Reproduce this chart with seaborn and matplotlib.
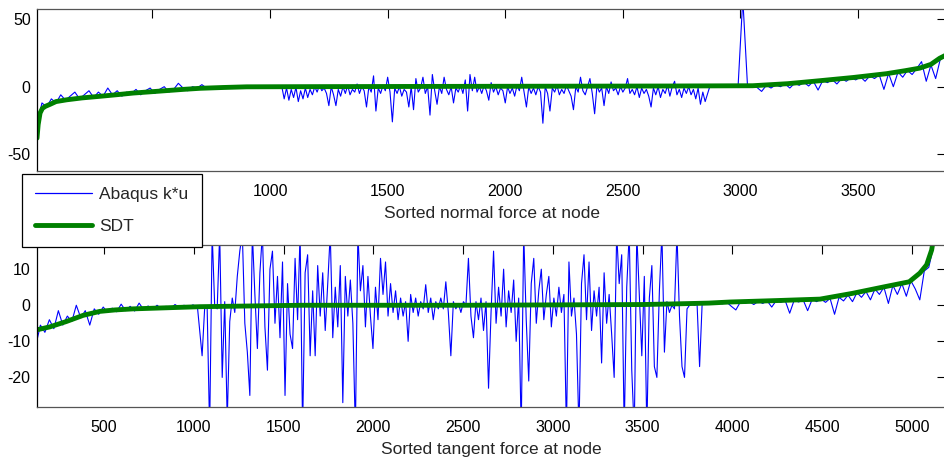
import numpy as np
import matplotlib
matplotlib.use('Agg')
import matplotlib.pyplot as plt
from matplotlib.lines import Line2D
import seaborn as sns

sns.set_style('white')
plt.rcParams['font.family'] = ['Liberation Sans', 'DejaVu Sans']
plt.rcParams['axes.unicode_minus'] = False

BLUE = '#0000ff'
GREEN = '#008000'

# ---- Top panel: sorted normal force (Abaqus k*u read off in three stretches) ----
# nodes 10..1050, every 20
normal_left_start, normal_left_step = 10, 20
normal_left = [
    -28, -12, -15, -9, -12, -6, -10, -7, -4, -9,
    -6, -3, -8, -4, -7, -1, -6, -3, -7, -4,
    -5, -2, -6, -3, -1, -5, -2, 0, -4, -2,
    2.5, -1, -3, 0, -1, 1.5, -1, 0, -2, 0,
    -0.5, 0.5, -0.3, 0, -0.1, 0.2, 0, -0.1, 0.3, 0,
    0, 0.1, 0,
]
# nodes 1060..2850, every 10
normal_mid_start, normal_mid_step = 1060, 10
normal_mid = [
    -9, -1, -10, -2, -8, -0.5, -11, -3, -9, -1,
    -8, -2, -6, 0, -4, 1, -3, -1, -5, -14,
    0, -6, -14, -2, -7, 0, -5, 1, -6, -2,
    -4, 2, -5, 0, -3, -15, 0, -4, 8, -18,
    -1, -5, 1, -3, 7, -4, -26, -1, -5, 0,
    -7, -2, -4, -15, 0, -17, 6, -4, -1, 7,
    -5, 0, -21, 9, -3, -13, 0, -5, 7, -2,
    -6, 0, -12, -1, -4, 1, -5, 5, -18, 9,
    -3, 7, -4, 0, -5, 1, -3, -10, 3, -4,
    0, -6, -1, -3, -12, 0, -5, -1, -7, 1,
    -3, 7, -4, -15, 0, -5, -1, -6, 0, -4,
    -27, 0, -5, -18, -1, -4, 1, -6, -2, -5,
    1, -3, -7, -17, 0, -4, 7, -3, -6, 0,
    6, -5, -20, 1, -4, -1, -14, 0, -5, 3.5,
    -3, -1, -6, 0, -4, -1, 6, -5, -2, -6,
    0, -8, -1, -5, -2, -7, -15, -1, -6, 0,
    -8, -2, -5, 1, -7, 0, 4, -6, -2, -8,
    -1, -5, 0, -6, -2, -9, -1, -13, -4, -11,
]
# nodes 2870..3870, every 20
normal_right_start, normal_right_step = 2870, 20
normal_right = [
    0.3, 0.2, 0.5, 0.3, 0.6, 0.4, 0.5, 65, 0.6, 0.7,
    -0.5, -3.5, 1, -1, 1.3, 0, 2, -1, 2.5, 1,
    3.2, 0.5, 4, -2.5, 4.5, 3, 5.3, 2, 6, 4,
    6.7, 5, 7.3, 4, 8, 6, 8.8, -2, 9.8, 0,
    10.8, 7, 12, 9, 13.5, 18.5, 4, 16, 6, 20.5,
    23,
]
normal_sdt_node = [9, 14, 22, 32, 45, 65, 90, 135, 200, 277, 350, 418, 490, 560,
                   630, 702, 800, 900, 1100, 2000, 2700, 3052, 3200, 3337, 3480,
                   3621, 3700, 3762, 3810, 3847, 3870]
normal_sdt = [-38, -28, -19.5, -16, -14.5, -13, -11, -9.7, -8.3, -7.1, -5.9, -4.7,
              -3.8, -2.9, -2, -1.2, -0.6, -0.1, 0, 0.3, 0.5, 0.7, 2.2, 4.4, 6.8,
              9.6, 11.8, 13.7, 16.5, 21, 23]

# ---- Bottom panel: sorted tangent force ----
# nodes 120..1020, every 25
tangent_left_start, tangent_left_step = 120, 25
tangent_left = [
    -11, -5.5, -7.5, -4, -6.5, -1.5, -5.5, -3, -4.5, 0,
    -3.5, -1.5, -5.5, -1, -2.5, -0.5, -2, -0.8, -1.8, 0.3,
    -1.5, -0.3, -1.6, 0.6, -1.2, -0.2, -1.1, 0, -1, -0.3,
    -0.9, 0.2, -0.6, 0, -0.5, 0.1, -0.5,
]
# nodes 1046..3846, every 14
tangent_mid_start, tangent_mid_step = 1046, 14
tangent_mid = [
    -14, -1, -0.5, -35, 20, 0, -1, 20, -20, 1,
    -32, -4.5, 2, -2, 8, 15, 20, -5, -13, -25,
    20, 3, -12, 9, 20, -6, -18, 10, 15, -5,
    8, -9, 12, -25, 6, -8, -12, 13, -4, 20,
    -35, 9, 14, -14, 4, -14, 11, -3, 9, -7,
    6, 20, -9, 5, -6, 11, -27, 8, -3, 7,
    -5, -35, 20, 4, 11, -6, 8, -3, -12, 5,
    -4, 13, 3, 12, -3, 6, -2, 4, -4, 2,
    -3, 1, -10, 3, -2, 2, -3, 1, -1, 5.7,
    -2, 2, -4, 1, -1, 2, -1, 6.5, -2, -14,
    1, -1, 0.5, -2, 1, 0, 13, -3, -9, 1,
    -4, 2, -7, 1, -23, -2, 15, -5, 5, -3,
    10, -6, 4, -2, 7, -10, 2, -35, 20, -4,
    -21, 6, 13, -5, 4, 10, -4, 3, 8, -6,
    2, -3, 5, -2, 3, -35, 12, -3, 2, -8,
    -35, 6, 14, -4, 12, -7, 4, -3, 5, -16,
    9, -5, 3, -8, -20, 20, 6, 14, -35, 5,
    20, -18, -35, 20, 3, -14, 8, -35, 2, 11,
    -17, -20, 4, 20, -13, 1, -2, 0, -1, 20,
    -3, -17, -20, -1, 0, 0.2, 0, 0.3, -17, 0.2,
    0.4,
]
# nodes 3870..5120, every 25
tangent_right_start, tangent_right_step = 3870, 25
tangent_right = [
    0.6, 0.3, 0.7, 0.4, 0.8, -0.3, -1.3, 0.9, 0.5, 1.0,
    0.2, 1.1, 0.5, 1.2, -0.5, 1.3, 0.8, 1.3, -2.2, 1.4,
    0.9, 1.5, -1.5, 1.6, 1.0, 1.7, 0.8, 1.9, -2.5, 2.2,
    1.2, 2.8, 1.0, 3.5, 2.2, 3.8, 1.5, 4.5, 3.0, 5.0,
    0.5, 5.5, 3.0, 6.0, 2.5, 6.8, 4.5, 1.5, 9.5, 10.5,
    16,
]
tangent_sdt_node = [126, 197, 290, 383, 476, 560, 662, 848, 1033, 1600, 2500, 3500,
                    3700, 3870, 3987, 4250, 4489, 4670, 4856, 4986, 5045, 5083,
                    5111, 5120, 5130]
tangent_sdt = [-6.8, -6, -4.5, -2.8, -1.7, -1.3, -1.0, -0.7, -0.4, 0, 0, 0.2,
               0.4, 0.6, 0.9, 1.3, 1.7, 3.3, 5.2, 6.5, 8.9, 11.2, 15.3, 18, 20]


def nodes(start, step, vals):
    return start + step * np.arange(len(vals))


normal_node = np.concatenate([
    nodes(normal_left_start, normal_left_step, normal_left),
    nodes(normal_mid_start, normal_mid_step, normal_mid),
    nodes(normal_right_start, normal_right_step, normal_right)])
normal_abaqus = normal_left + normal_mid + normal_right

tangent_node = np.concatenate([
    nodes(tangent_left_start, tangent_left_step, tangent_left),
    nodes(tangent_mid_start, tangent_mid_step, tangent_mid),
    nodes(tangent_right_start, tangent_right_step, tangent_right)])
tangent_abaqus = tangent_left + tangent_mid + tangent_right

fig = plt.figure(figsize=(9.44, 4.59), dpi=100)
W, H = 944, 459
ax1 = fig.add_axes([37 / W, 1 - 171 / H, 909 / W, 162 / H])
ax2 = fig.add_axes([37 / W, 1 - 407 / H, 909 / W, 162 / H])

sns.lineplot(x=normal_node, y=normal_abaqus, ax=ax1, color=BLUE, lw=0.8,
             estimator=None, sort=False)
sns.lineplot(x=normal_sdt_node, y=normal_sdt, ax=ax1, color=GREEN, lw=3.5,
             estimator=None, sort=False)
sns.lineplot(x=tangent_node, y=tangent_abaqus, ax=ax2, color=BLUE, lw=0.8,
             estimator=None, sort=False)
sns.lineplot(x=tangent_sdt_node, y=tangent_sdt, ax=ax2, color=GREEN, lw=3.5,
             estimator=None, sort=False)

top_xticks = [500, 1000, 1500, 2000, 2500, 3000, 3500]
ax1.set_xlim(9, 3874)
ax1.set_ylim(-62.3, 57.4)
ax1.set_xticks(top_xticks)
# the 500 label sits behind the legend in the original
ax1.set_xticklabels([''] + [str(t) for t in top_xticks[1:]])
ax1.set_yticks([-50, 0, 50])
ax1.set_xlabel('Sorted normal force at node', fontsize=12.5, labelpad=5)

ax2.set_xlim(126, 5191)
ax2.set_ylim(-28.2, 16.7)
ax2.set_xticks([500, 1000, 1500, 2000, 2500, 3000, 3500, 4000, 4500, 5000])
ax2.set_yticks([-20, -10, 0, 10])
ax2.set_xlabel('Sorted tangent force at node', fontsize=12.5, labelpad=5)

for ax in (ax1, ax2):
    ax.set_ylabel('')
    ax.grid(False)
    ax.tick_params(direction='in', top=True, right=True, length=6.5, width=0.8,
                   labelsize=11.5, colors='black')
    ax.tick_params(axis='x', pad=9.5)
    ax.tick_params(axis='y', pad=4.5)
    for side, sp in ax.spines.items():
        sp.set_linewidth(0.9)
        sp.set_color('#555555' if side in ('top', 'bottom') else 'black')

handles = [Line2D([], [], color=BLUE, lw=0.9), Line2D([], [], color=GREEN, lw=3.5)]
leg = fig.legend(handles, ['Abaqus k*u', 'SDT'], loc='upper left',
                 bbox_to_anchor=(22 / W, 1 - 174 / H), borderaxespad=0,
                 fancybox=False, frameon=True, edgecolor='black', framealpha=1,
                 fontsize=12.5, handlelength=3.3, handletextpad=0.4,
                 labelspacing=0.95, borderpad=0.75)
leg.get_frame().set_linewidth(0.9)

fig.savefig('out.png', dpi=100)
